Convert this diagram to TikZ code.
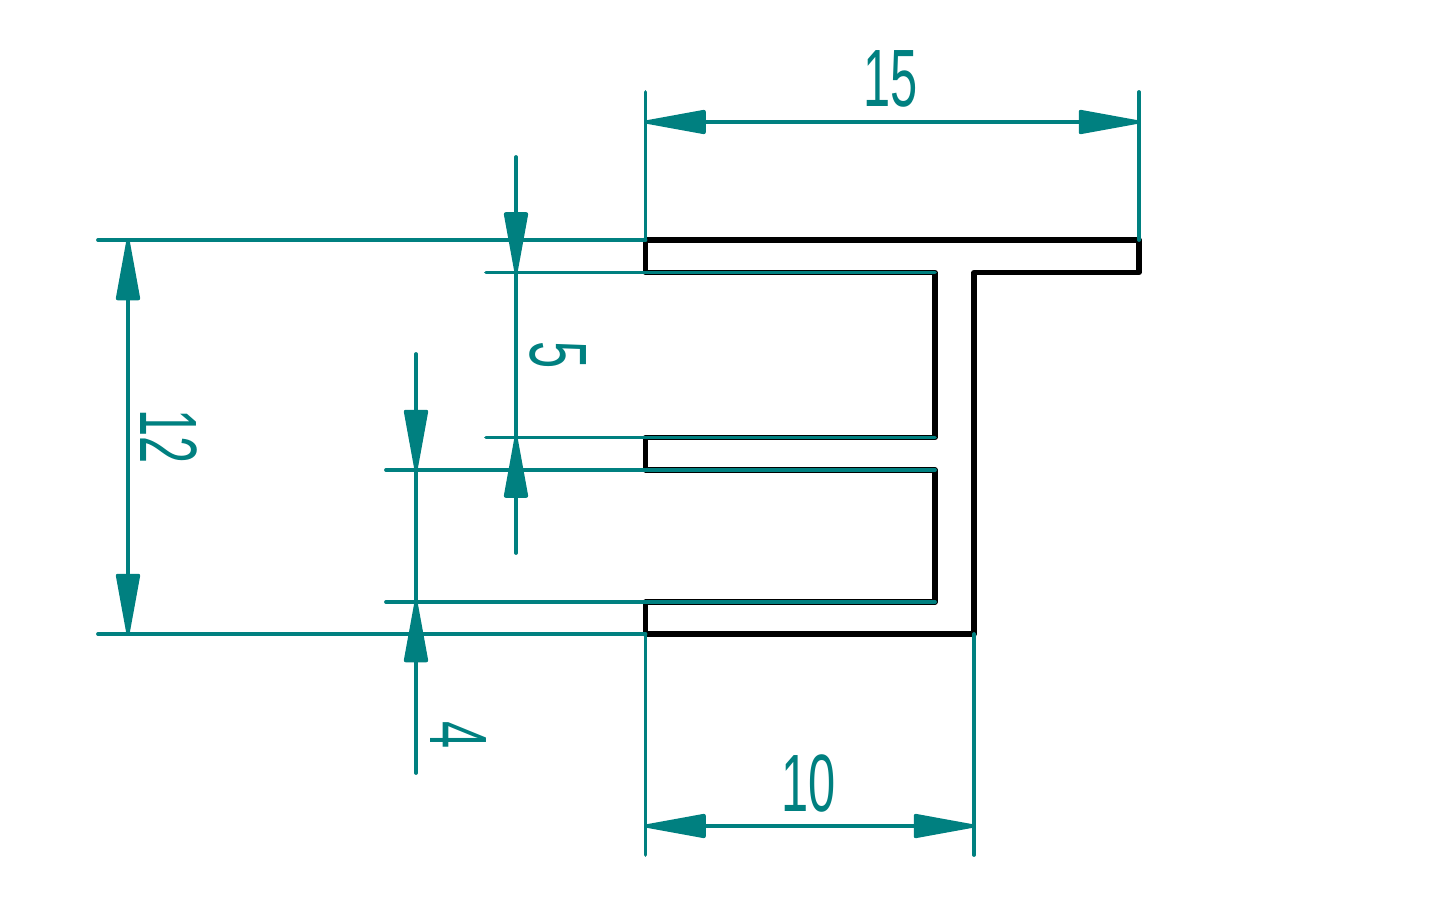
\documentclass[tikz,border=0pt]{standalone}
\usepackage{fontspec}
\usetikzlibrary{arrows.meta}
\newfontfamily\dimfont{Liberation Sans}
\definecolor{dimteal}{RGB}{0,128,128}
\tikzset{
  profileline/.style={draw=black,line width=4pt,line join=round,line cap=round},
  dimline/.style={draw=dimteal,line width=2.8pt,line cap=round},
  bigtip/.tip={Triangle[length=52pt,width=18pt,round]},
  dimtip/.style={dimline,-bigtip},
  dimboth/.style={dimline,bigtip-bigtip},
  dimtext/.style={text=dimteal,inner sep=0pt,font=\dimfont\fontsize{61}{61}\selectfont,xscale=.6},
  dimtextside/.style={text=dimteal,inner sep=0pt,font=\dimfont\fontsize{61}{61}\selectfont,rotate=-90,xscale=.6},
}
\begin{document}
\begin{tikzpicture}[x=0.75pt,y=-0.75pt]
\useasboundingbox (0,0) rectangle (1440,900);
\fill[white] (0,0) rectangle (1440,900);
% profile corners
\coordinate (a) at (645.5,240);
\coordinate (b) at (1139,240);
\coordinate (c) at (1139,272.5);
\coordinate (d) at (974,272.5);
\coordinate (e) at (974,634);
\coordinate (f) at (645.5,634);
\coordinate (g) at (645.5,602);
\coordinate (h) at (935,602);
\coordinate (i) at (935,470);
\coordinate (j) at (645.5,470);
\coordinate (k) at (645.5,437.5);
\coordinate (l) at (935,437.5);
\coordinate (m) at (935,272.5);
\coordinate (n) at (645.5,272.5);
\draw[profileline] (a)--(b)--(c)--(d)--(e)--(f)--(g)--(h)--(i)--(j)--(k)--(l)--(m)--(n)--cycle;
% extension line ends
\coordinate (xTopL) at (98,240);
\coordinate (xBotL) at (98,634);
\coordinate (x272) at (486,272.5);
\coordinate (x437) at (486,437.5);
\coordinate (x470) at (386,470);
\coordinate (x602) at (386,602);
\coordinate (yA) at (645.5,92);
\coordinate (yB) at (1139,92);
\coordinate (yF) at (645.5,855);
\coordinate (yE) at (974,855);
\draw[dimline] (xTopL)--(a);
\draw[dimline] (xBotL)--(f);
\draw[dimline] (x272)--(n)--(m);
\draw[dimline] (x437)--(k)--(l);
\draw[dimline] (x470)--(j)--(i);
\draw[dimline] (x602)--(g)--(h);
\draw[dimline] (yA)--(a);
\draw[dimline] (yB)--(b);
\draw[dimline] (f)--(yF);
\draw[dimline] (e)--(yE);
% dimension 15
\coordinate (d15a) at (645.5,122);
\coordinate (d15b) at (1139,122);
\draw[dimboth] (d15a)--(d15b);
% dimension 10
\coordinate (d10a) at (645.5,826);
\coordinate (d10b) at (974,826);
\draw[dimboth] (d10a)--(d10b);
% dimension 12
\coordinate (d12a) at (128,240);
\coordinate (d12b) at (128,634);
\draw[dimboth] (d12a)--(d12b);
% dimension 5
\coordinate (d5a) at (516,157);
\coordinate (d5b) at (516,272.5);
\coordinate (d5c) at (516,437.5);
\coordinate (d5d) at (516,553);
\draw[dimtip] (d5a)--(d5b);
\draw[dimtip] (d5d)--(d5c);
\draw[dimline] (d5b)--(d5c);
% dimension 4
\coordinate (d4a) at (416,354);
\coordinate (d4b) at (416,470);
\coordinate (d4c) at (416,602);
\coordinate (d4d) at (416,773);
\draw[dimtip] (d4a)--(d4b);
\draw[dimtip] (d4d)--(d4c);
\draw[dimline] (d4b)--(d4c);
% labels
\node[dimtext] (t15) at (891,79) {15};
\node[dimtext] (t10) at (809,783) {10};
\node[dimtextside] (t12) at (169,437) {12};
\node[dimtextside] (t5) at (558,355) {5};
\node[dimtextside] (t4) at (458,735) {4};
\end{tikzpicture}
\end{document}
